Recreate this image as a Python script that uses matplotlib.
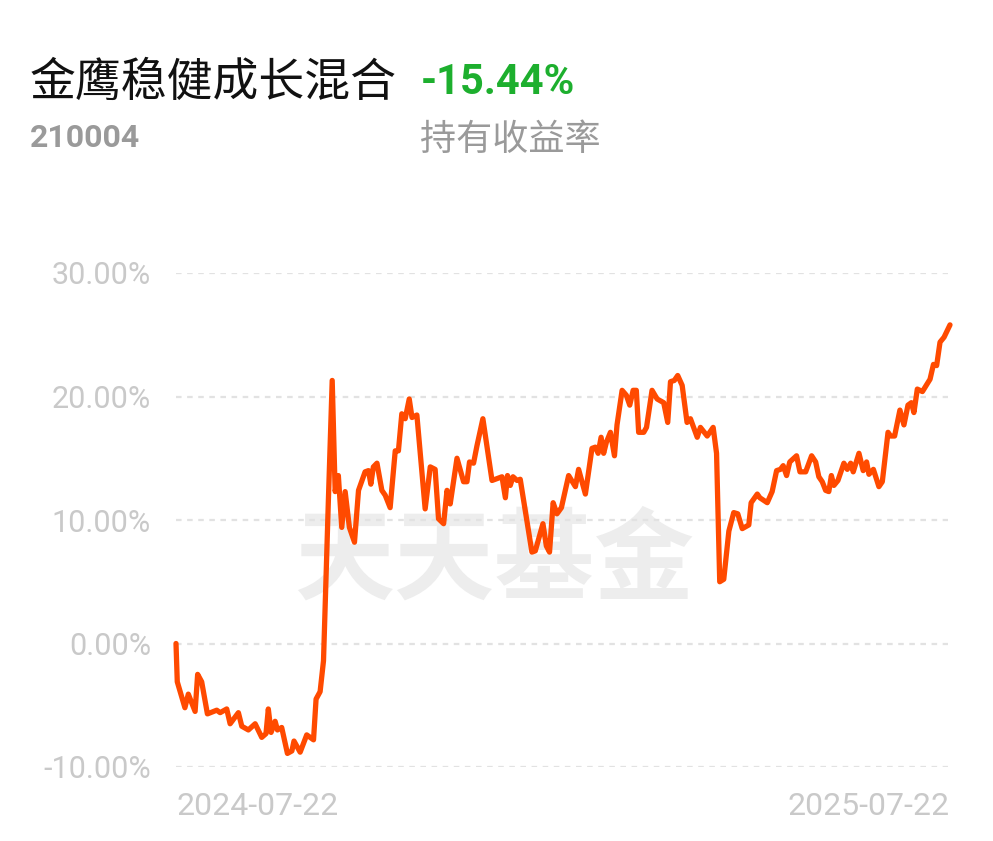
import matplotlib
matplotlib.use("Agg")
import matplotlib.pyplot as plt

# fund info
fund_name = "金鹰稳健成长混合"
fund_code = "210004"
hold_return = "-15.44%"
hold_label = "持有收益率"
start_label = "2024-07-22"
end_label = "2025-07-22"

# days since 2024-07-22, cumulative return in %
days = [0, 0.6, 4.2, 5.8, 9.0, 10.2, 12.1, 14.8, 19.2, 20.8, 23.9, 25.5, 29.4, 31.0,
        34.1, 37.3, 40.4, 42.4, 43.5, 44.8, 46.7, 47.8, 49.8, 52.5, 54.6, 55.6, 58.5,
        61.6, 64.8, 66.0, 67.9, 69.5, 70.7, 71.8, 73.6, 75.0, 76.5, 78.1, 79.7, 81.7,
        84.1, 86.0, 89.1, 90.7, 91.8, 93.0, 94.7, 97.0, 98.6, 100.9, 103.3, 104.8,
        106.4, 108.0, 109.9, 111.2, 113.5, 117.4, 119.8, 122.1, 123.7, 126.1, 127.7,
        129.2, 132.4, 135.5, 137.1, 138.3, 140.2, 141.8, 144.6, 148.9, 153.6, 155.2,
        156.2, 157.5, 158.8, 160.7, 162.2, 167.7, 169.3, 172.9, 174.5, 176.0, 177.7,
        179.5, 181.6, 185.0, 188.2, 189.7, 192.9, 196.0, 197.6, 198.9, 200.3, 201.5,
        202.8, 204.7, 206.6, 207.8, 210.2, 212.2, 213.8, 215.4, 216.9, 218.0, 220.4,
        221.7, 224.3, 226.7, 229.8, 231.7, 233.0, 234.8, 236.4, 238.5, 240.8, 242.4,
        245.6, 247.1, 250.3, 253.1, 254.7, 256.2, 258.1, 260.5, 262.8, 264.7, 266.8,
        269.9, 271.0, 273.9, 275.1, 278.6, 280.9, 283.0, 284.8, 286.1, 287.7, 289.2,
        292.4, 294.0, 296.7, 299.5, 301.4, 302.9, 304.5, 306.1, 307.6, 308.8, 310.0,
        311.9, 314.7, 316.3, 317.9, 319.1, 321.8, 323.8, 325.4, 326.5, 328.6, 331.2,
        332.8, 335.5, 336.7, 338.6, 341.1, 343.0, 344.9, 346.5, 347.7, 349.3, 351.7,
        355.3, 356.9, 358.4, 360.0, 361.9, 364.7]
returns = [0.0, -3.1, -5.2, -4.1, -5.5, -2.5, -3.1, -5.7, -5.4, -5.6, -5.3, -6.5, -5.6, -6.7,
           -7.0, -6.5, -7.6, -7.3, -5.3, -7.2, -6.3, -7.0, -6.8, -8.9, -8.7, -7.9, -8.8,
           -7.4, -7.8, -4.5, -3.9, -1.4, 5.4, 11.6, 21.3, 12.3, 13.6, 9.4, 12.3, 9.4,
           8.2, 12.4, 13.9, 14.0, 12.9, 14.3, 14.6, 12.4, 12.0, 11.0, 15.6, 15.6,
           18.6, 18.2, 19.8, 18.3, 18.5, 10.9, 14.3, 14.1, 10.1, 9.7, 12.4,
           11.3, 15.0, 13.1, 13.1, 14.7, 14.6, 16.0, 18.2, 13.2, 13.5, 11.8,
           13.6, 12.8, 13.5, 13.2, 13.3, 7.4, 7.5, 9.7, 7.9, 7.4, 11.4,
           10.5, 11.0, 13.6, 12.7, 14.1, 12.1, 15.8, 15.9, 15.4, 16.7, 15.4,
           16.3, 17.1, 15.2, 17.7, 20.5, 20.1, 19.3, 20.5, 20.5, 17.1, 17.1,
           17.5, 20.5, 19.8, 19.5, 17.9, 21.2, 21.3, 21.7, 20.9, 17.9, 18.2,
           16.7, 17.5, 16.8, 17.5, 15.4, 5.0, 5.2, 9.1, 10.6, 10.5, 9.3,
           9.6, 11.4, 12.1, 11.8, 11.4, 12.3, 14.0, 14.1, 14.4, 13.6, 14.7,
           15.2, 13.9, 13.9, 15.2, 14.7, 13.5, 13.1, 12.4, 12.3, 13.6, 12.8,
           13.2, 14.6, 14.1, 14.6, 13.9, 15.4, 14.0, 14.7, 13.7, 14.1, 12.7,
           13.1, 17.1, 16.8, 16.8, 18.9, 17.7, 19.3, 19.5, 18.7, 20.6, 20.4,
           21.4, 22.6, 22.5, 24.4, 24.8, 25.8]
y_ticks = [-10, 0, 10, 20, 30]

cjk = ["Noto Sans CJK SC", "DejaVu Sans"]
num_font = ["Roboto", "DejaVu Sans"]

fig = plt.figure(figsize=(9.93, 8.41), dpi=100)
fig.patch.set_facecolor("white")

# header texts
fig.text(30 / 993, 1 - 83 / 841, fund_name, family=cjk, fontsize=33, color="#111111",
         va="center", ha="left")
fig.text(421 / 993, 1 - 82 / 841, hold_return, family=num_font, fontsize=30,
         fontweight="bold", color="#1DAF2E", va="center", ha="left")
fig.text(30 / 993, 1 - 138 / 841, fund_code, family=num_font, fontsize=23,
         fontweight="bold", color="#9A9A9A", va="center", ha="left")
fig.text(420 / 993, 1 - 140 / 841, hold_label, family=cjk, fontsize=26,
         color="#9A9A9A", va="center", ha="left")

ax = fig.add_axes([176 / 993, 1 - 767 / 841, 774 / 993, 494 / 841])
ax.patch.set_alpha(0)

# watermark behind the line
ax.text(0.411, 0.415, "天天基金", transform=ax.transAxes, family=cjk, fontsize=72,
        fontweight="bold", color="#EDEDED", va="center", ha="center", zorder=0)

ax.plot(days, returns, color="#FF4A00", lw=3.8, solid_joinstyle="round",
        solid_capstyle="round", clip_on=False, zorder=3)

ax.set_xlim(days[0], days[-1])
ax.set_ylim(-10, 30)
ax.set_yticks(y_ticks)
ax.set_yticklabels(["%.2f%%" % v for v in y_ticks])
for v in y_ticks:
    ax.axhline(v, color="#E2E2E2", lw=1.6, ls=(0, (2.5, 2.5)), xmax=0.997, zorder=1)

ax.set_xticks([days[0], days[-1]])
ax.set_xticklabels([start_label, end_label])
xl = ax.get_xticklabels()
xl[0].set_ha("left")
xl[1].set_ha("right")

ax.tick_params(axis="y", length=0, colors="#C9C9C9", labelsize=22, pad=18)
ax.tick_params(axis="x", length=0, colors="#C9C9C9", labelsize=23, pad=18)
for lab in ax.get_xticklabels() + ax.get_yticklabels():
    lab.set_family(num_font)
for s in ax.spines.values():
    s.set_visible(False)

fig.savefig("out.png", dpi=100)
